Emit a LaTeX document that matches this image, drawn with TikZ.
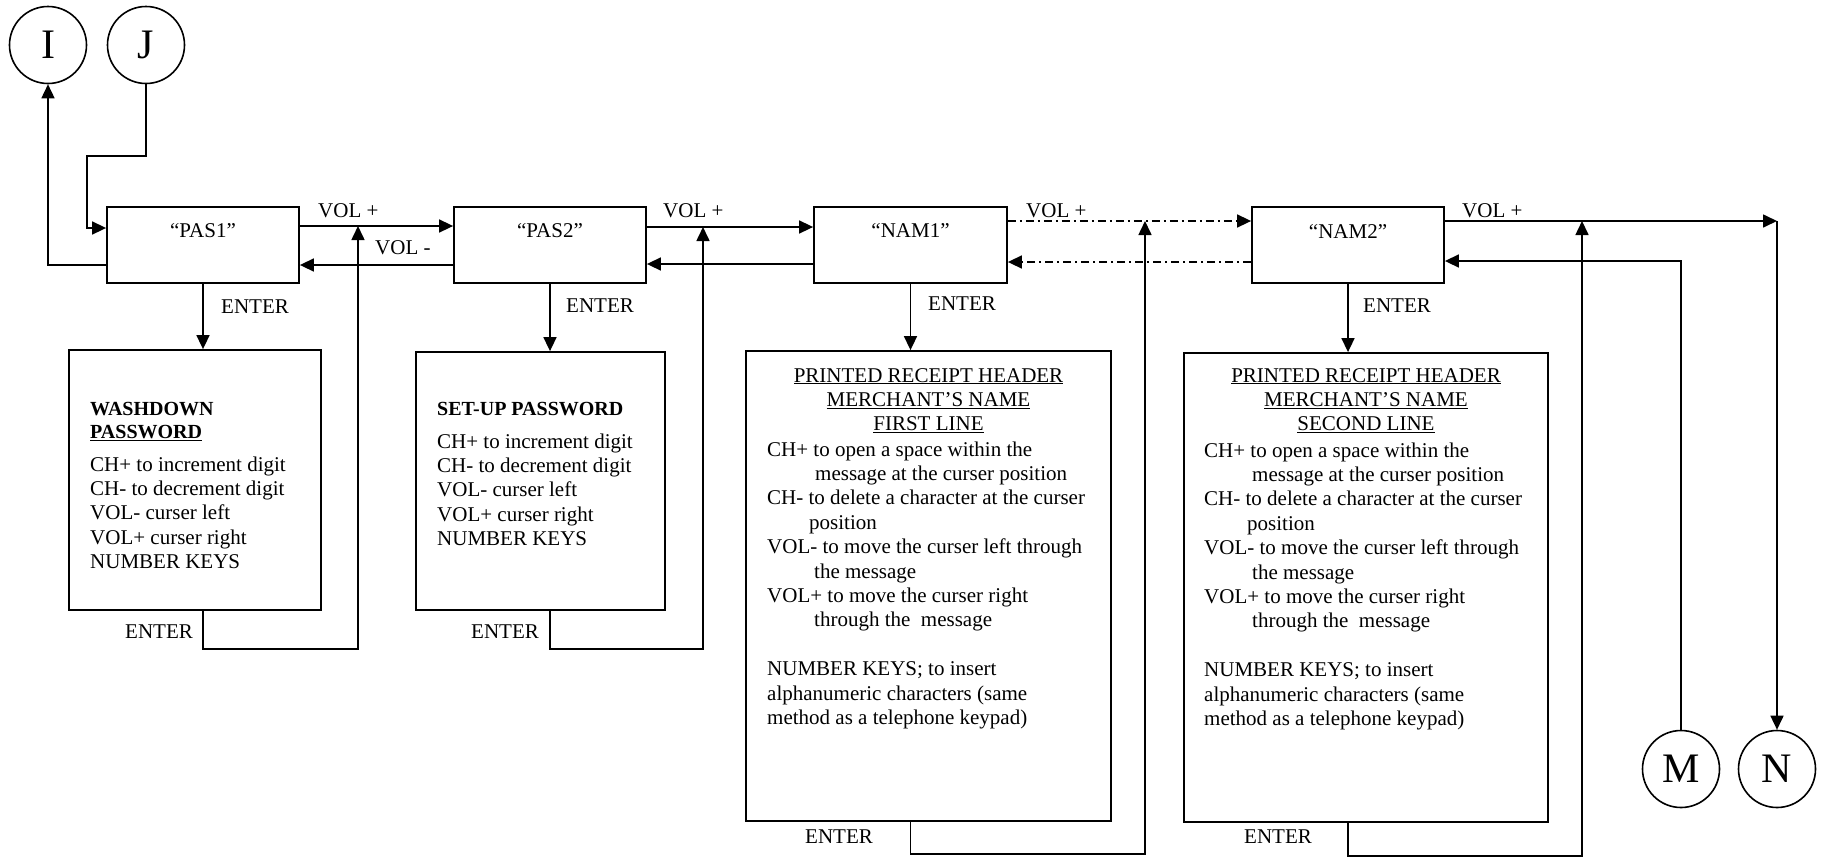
\documentclass[tikz,border=0pt]{standalone}
\usepackage{fontspec}
\setmainfont{Liberation Serif}
\usetikzlibrary{arrows.meta,calc}
\begin{document}
\begin{tikzpicture}[x=1pt,y=-1pt,
  every node/.style={font=\fontsize{21}{24.4}\selectfont},
  boxst/.style={draw, line width=1.8pt, inner sep=0pt, rectangle},
  circst/.style={draw, circle, line width=1.6pt, minimum size=77pt, inner sep=0pt, font=\fontsize{42}{42}\selectfont},
  lbl/.style={inner sep=0pt, anchor=base west},
  ttl/.style={inner sep=0pt, anchor=base},
  conn/.style={line width=1.6pt},
  arr/.style={conn, -{Triangle[length=14pt,width=13pt]}},
  dd/.style={arr, dash pattern=on 8pt off 4pt on 2pt off 4pt}
]
\useasboundingbox (0,0) rectangle (1823,857);
\fill[white] (0,0) rectangle (1823,857);

% connector circles
\node[circst] (I) at (48,45) {\raisebox{-2pt}{I}};
\node[circst] (J) at (146,45) {\raisebox{-2pt}{J}};
\node[circst] (M) at (1681,769) {\raisebox{-2pt}{M}};
\node[circst] (N) at (1777,769) {\raisebox{-2pt}{N}};

% state boxes
\node[boxst, minimum width=192pt, minimum height=76pt] (pas1) at (203,245) {};
\node[boxst, minimum width=192pt, minimum height=76pt] (pas2) at (550,245) {};
\node[boxst, minimum width=193pt, minimum height=76pt] (nam1) at (910.5,245) {};
\node[boxst, minimum width=192pt, minimum height=76pt] (nam2) at (1348,245) {};
\node[ttl] (pas1t) at (203,237) {“PAS1”};
\node[ttl] (pas2t) at (550,237) {“PAS2”};
\node[ttl] (nam1t) at (910.5,237) {“NAM1”};
\node[ttl] (nam2t) at (1348,238) {“NAM2”};

% description boxes
\node[boxst, minimum width=252pt, minimum height=260pt] (wd) at (195,480) {};
\node[boxst, minimum width=249pt, minimum height=258pt] (su) at (540.5,481) {};
\node[boxst, minimum width=365pt, minimum height=470pt] (d1) at (928.5,586) {};
\node[boxst, minimum width=364pt, minimum height=469pt] (d2) at (1366,587.5) {};

\node[lbl] (wdtxt) at (90,415) {\begin{minipage}[t]{225pt}
{\bfseries\fontsize{20}{24.4}\selectfont WASHDOWN}\\[-1.4pt]
{\bfseries\fontsize{20}{24.4}\selectfont \underline{PASSWORD}}\\[8.6pt]
CH+ to increment digit\\
CH- to decrement digit\\
VOL- curser left\\
VOL+ curser right\\
NUMBER KEYS
\end{minipage}};

\node[lbl] (sutxt) at (437,415) {\begin{minipage}[t]{225pt}
{\bfseries\fontsize{20}{24.4}\selectfont SET-UP PASSWORD}\\[8.6pt]
CH+ to increment digit\\
CH- to decrement digit\\
VOL- curser left\\
VOL+ curser right\\
NUMBER KEYS
\end{minipage}};

\node[ttl] (d1t) at (928.5,382) {\begin{minipage}[t]{360pt}\centering
\underline{PRINTED RECEIPT HEADER}\\
\underline{MERCHANT’S NAME}\\
\underline{FIRST LINE}
\end{minipage}};
\node[lbl] (d1txt) at (767,456) {\begin{minipage}[t]{400pt}
CH+ to open a space within the\\
\hspace*{48pt}message at the curser position\\
CH- to delete a character at the curser\\
\hspace*{42pt}position\\
VOL- to move the curser left through\\
\hspace*{47pt}the message\\
VOL+ to move the curser right\\
\hspace*{47pt}through the~ message\\[24.4pt]
NUMBER KEYS; to insert\\
alphanumeric characters (same\\
method as a telephone keypad)
\end{minipage}};

\node[ttl] (d2t) at (1366,382) {\begin{minipage}[t]{360pt}\centering
\underline{PRINTED RECEIPT HEADER}\\
\underline{MERCHANT’S NAME}\\
\underline{SECOND LINE}
\end{minipage}};
\node[lbl] (d2txt) at (1204,457) {\begin{minipage}[t]{400pt}
CH+ to open a space within the\\
\hspace*{48pt}message at the curser position\\
CH- to delete a character at the curser\\
\hspace*{43pt}position\\
VOL- to move the curser left through\\
\hspace*{48pt}the message\\
VOL+ to move the curser right\\
\hspace*{48pt}through the~ message\\[24.4pt]
NUMBER KEYS; to insert\\
alphanumeric characters (same\\
method as a telephone keypad)
\end{minipage}};

% coordinates where loops rejoin
\coordinate (v1) at (358,226);
\coordinate (v2) at (703,227);
\coordinate (v3) at (1145,221);
\coordinate (v4) at (1582,221);
\coordinate (nc) at (N.north |- 0,221);

% I / J connectors
\draw[arr] ([yshift=-20pt]pas1.west) -| (I.south);
\draw[arr] (J.south) |- (87,156) |- ([yshift=17pt]pas1.west);

% PAS1
\draw[arr] ([yshift=19pt]pas1.east) -- ([yshift=19pt]pas2.west);
\draw[arr] ([yshift=-20pt]pas2.west) -- ([yshift=-20pt]pas1.east);
\draw[arr] (pas1.south) -- (pas1.south |- wd.north);
\draw[arr] (pas1.south |- wd.south) -- ++(0,38) -| (v1);

% PAS2
\draw[arr] ([yshift=18pt]pas2.east) -- ([yshift=18pt]nam1.west);
\draw[arr] ([yshift=-19pt]nam1.west) -- ([yshift=-19pt]pas2.east);
\draw[arr] (pas2.south) -- (pas2.south |- su.north);
\draw[arr] (pas2.south |- su.south) -- ++(0,38) -| (v2);

% NAM1
\draw[dd] ([yshift=24pt]nam1.east) -- ([yshift=24pt]nam2.west);
\draw[dd] ([yshift=-17pt]nam2.west) -- ([yshift=-17pt]nam1.east);
\draw[arr] (nam1.south) -- (nam1.south |- d1.north);
\draw[arr] (nam1.south |- d1.south) -- ++(0,32) -| (v3);

% NAM2
\draw[arr] ([yshift=24pt]nam2.east) -- (nc);
\draw[arr] (nc) -- (N.north);
\draw[arr] (M.north) |- ([yshift=-16pt]nam2.east);
\draw[arr] (nam2.south) -- (nam2.south |- d2.north);
\draw[arr] (nam2.south |- d2.south) -- ++(0,33) -| (v4);

% labels
\node[lbl] (l1) at (318,217) {VOL +};
\node[lbl] (l2) at (375,254) {VOL -};
\node[lbl] (l3) at (221,313) {ENTER};
\node[lbl] (l4) at (125,638) {ENTER};
\node[lbl] (l5) at (663,217) {VOL +};
\node[lbl] (l6) at (566,312) {ENTER};
\node[lbl] (l7) at (471,638) {ENTER};
\node[lbl] (l8) at (1026,217) {VOL +};
\node[lbl] (l9) at (928,310) {ENTER};
\node[lbl] (l10) at (805,843) {ENTER};
\node[lbl] (l11) at (1462,217) {VOL +};
\node[lbl] (l12) at (1363,312) {ENTER};
\node[lbl] (l13) at (1244,843) {ENTER};
\end{tikzpicture}
\end{document}
